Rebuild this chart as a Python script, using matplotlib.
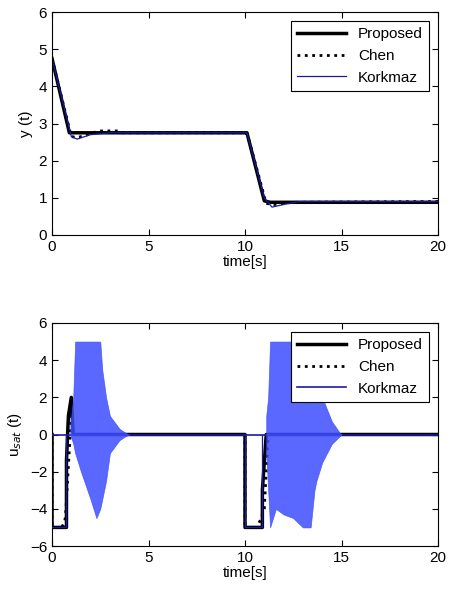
import numpy as np
import matplotlib.pyplot as plt

plt.rcParams['font.family'] = ['Liberation Sans', 'DejaVu Sans']
plt.rcParams['font.size'] = 11

# y(t) key points
t_prop_y = [0, 0.9, 10.0, 10.1, 11.0, 11.3, 20]
y_prop = [4.75, 2.75, 2.75, 2.75, 0.92, 0.88, 0.88]
t_chen_y = [0, 1.0, 1.3, 2.0, 2.4, 3.5, 3.6, 10.0, 10.1, 11.1, 11.5, 12.5, 20]
y_chen = [4.75, 2.65, 2.62, 2.72, 2.8, 2.8, 2.75, 2.75, 2.75, 0.85, 0.82, 0.88, 0.9]
t_kork_y = [0, 1.0, 1.3, 2.0, 3.0, 10.0, 10.1, 11.0, 11.4, 12.0, 12.8, 20]
y_kork = [4.75, 2.65, 2.58, 2.7, 2.75, 2.75, 2.75, 1.0, 0.75, 0.82, 0.9, 0.9]

# u_sat(t) key points
t_prop_u = [0, 0, 0.75, 0.75, 0.85, 1.0, 1.1, 10.0, 10.0, 10.9, 10.9, 11.1, 11.2, 20]
u_prop = [0, -5, -5, -1.4, 1.0, 2.0, 0, 0, -5, -5, -3, 0, 0, 0]
t_chen_u = [0, 0, 0.5, 0.65, 0.7, 1.0, 1.1, 10.0, 10.0, 10.6, 10.8, 11.0, 11.2, 20]
u_chen = [0, -5, -5, -4.7, -4.4, 1.0, 0, 0, -5, -5, -4.6, -4.0, 0, 0]
# Korkmaz chattering envelope
t_env1 = [0.95, 1.1, 1.2, 1.5, 2.0, 2.3, 2.5, 2.6, 2.8, 3.0, 3.5, 3.8, 4.0]
up_env1 = [0.5, 2.0, 5, 5, 5, 5, 5, 3.5, 2.0, 1.0, 0.3, 0.1, 0]
lo_env1 = [0, -0.5, -1.0, -2.0, -3.5, -4.5, -4.0, -3.5, -2.5, -1.0, -0.3, -0.1, 0]
t_env2 = [11.1, 11.2, 11.3, 11.6, 12.0, 12.5, 13.0, 13.4, 13.6, 13.7, 14.0, 14.5, 14.9, 15.0]
up_env2 = [1.0, 2.0, 5, 5, 5, 5, 5, 5, 4.0, 3.5, 2.0, 0.7, 0.1, 0]
lo_env2 = [-1.0, -3.0, -5.0, -4.0, -4.3, -4.5, -5.0, -5.0, -3.0, -2.5, -1.5, -0.5, -0.1, 0]

blue = '#1a1aa0'
blue_u = '#3d4dff'

fig = plt.figure(figsize=(4.5, 5.92), dpi=100)
ax1 = fig.add_axes([52/450, 1-235/592, 386/450, 223/592])
ax2 = fig.add_axes([52/450, 1-546/592, 386/450, 223/592])

ax1.plot(t_prop_y, y_prop, color='black', lw=2.5, label='Proposed')
ax1.plot(t_chen_y, y_chen, color='black', lw=2, ls=':', label='Chen')
ax1.plot(t_kork_y, y_kork, color=blue, lw=0.9, label='Korkmaz')
ax1.set_ylim(0, 6)
ax1.set_ylabel('y (t)')

ax2.plot(t_prop_u, u_prop, color='black', lw=2.5, label='Proposed')
ax2.plot(t_chen_u, u_chen, color='black', lw=2, ls=':', label='Chen')
ax2.plot([0, 20], [0, 0], color=blue, lw=1.2, label='Korkmaz', zorder=3)
ax2.fill_between(t_env1, lo_env1, up_env1, color=blue_u, alpha=0.85, lw=0.5, zorder=3)
ax2.fill_between(t_env2, lo_env2, up_env2, color=blue_u, alpha=0.85, lw=0.5, zorder=3)
ax2.plot([0, 0.75, 0.75], [-5, -5, 0], color=blue, lw=0.9, zorder=3)
ax2.plot([10, 10, 10.9, 10.9], [0, -5, -5, 0], color=blue, lw=0.9, zorder=3)
ax2.set_ylim(-6, 6)
ax2.set_ylabel('u$_{sat}$ (t)')

for ax in (ax1, ax2):
    ax.set_xlim(0, 20)
    ax.set_xticks([0, 5, 10, 15, 20])
    ax.set_xlabel('time[s]', labelpad=1)
    ax.tick_params(direction='in', top=True, right=True, length=4, labelsize=11)
    leg = ax.legend(loc='upper right', fancybox=False, framealpha=1,
                    edgecolor='black', borderaxespad=0.6, handlelength=3.2,
                    fontsize=11)
    leg.set_zorder(5)
    leg.get_frame().set_linewidth(0.8)

fig.savefig('out.png', dpi=100)
